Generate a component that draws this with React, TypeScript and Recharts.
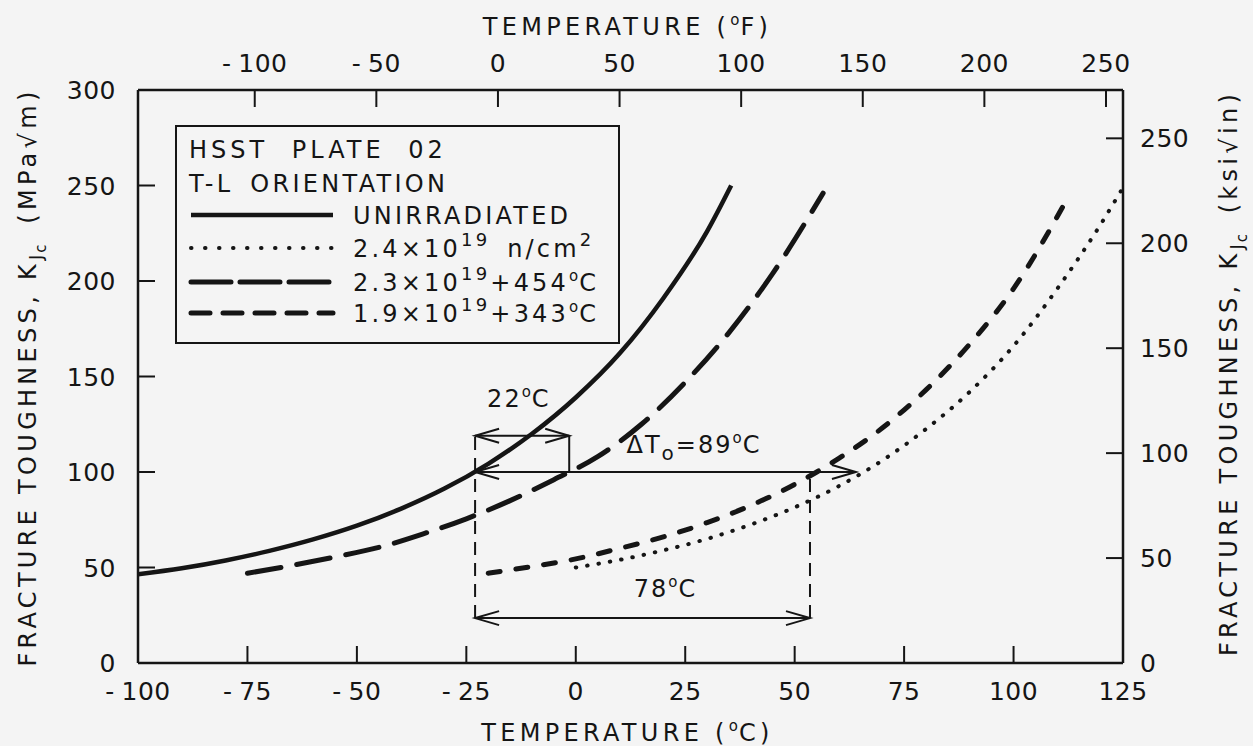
import React from 'react';
import { LineChart, Line, XAxis, YAxis, ReferenceLine, ReferenceDot, Legend } from 'recharts';

// ---------- data ----------
const unirrTemp = [-100, -90, -80, -70, -60, -50, -40, -30, -20, -10, 0, 10, 20, 30, 35.5];
const unirrK = [46.5, 49.6, 53.7, 58.7, 64.7, 71.9, 80.7, 91.3, 104.3, 120, 139, 162, 191, 226, 250];

const dose24Temp = [0, 10, 20, 30, 40, 50, 60, 70, 80, 90, 100, 110, 120, 124.5];
const dose24K = [50, 54, 59, 65, 72.5, 81.5, 92.5, 106, 122.5, 142, 166, 196, 230, 247];

const ann454Temp = [-75, -65, -55, -45, -35, -25, -15, -5, 5, 15, 25, 35, 45, 56.5];
const ann454K = [47, 51, 55.5, 60.5, 67.5, 75.5, 85, 96, 108, 125, 147, 173, 204, 246];

const ann343Temp = [-20, -10, 0, 10, 20, 30, 40, 50, 60, 70, 80, 90, 100, 112.5];
const ann343K = [47, 50.5, 54.5, 60, 66, 73.5, 82.5, 93.5, 107, 123, 143, 167, 196, 244];

const xTicksC = [-100, -75, -50, -25, 0, 25, 50, 75, 100, 125];
const xTicksF = [-100, -50, 0, 50, 100, 150, 200, 250];
const yTicksMPa = [0, 50, 100, 150, 200, 250, 300];
const yTicksKsi = [0, 50, 100, 150, 200, 250];

const domainC = [-100, 125];
const domainF = [-148, 257];
const domainMPa = [0, 300];
const domainKsi = [0, 273.03];

// annotation values (temperature in °C, toughness in MPa√m)
const refTemp = -23;
const shift454Temp = -1.5;
const shift343Temp = 53.5;
const dtArrowEnd = 64;
const kRef = 100;
const k22 = 119;
const k78 = 23.5;
const label22 = { t: -13, k: 134 };
const labelDT = { t: 27, k: 110 };
const label78 = { t: 20.5, k: 34.5 };

const zip = (ts: number[], ks: number[]) => ts.map((t, i) => ({ t, k: ks[i] }));
const unirr = zip(unirrTemp, unirrK);
const dose24 = zip(dose24Temp, dose24K);
const ann454 = zip(ann454Temp, ann454K);
const ann343 = zip(ann343Temp, ann343K);
// span of the secondary axes (°F, ksi√in) so that they get drawn
const secondarySpan = [
  { f: domainF[0], k: domainKsi[0] },
  { f: domainF[1], k: domainKsi[1] },
];

// ---------- styles ----------
const FONT = '"DejaVu Sans", sans-serif';
const INK = '#151515';
const BG = '#f4f4f4';

const series = [
  { key: 'unirr', data: unirr, width: 4.5, dash: undefined as string | undefined, legendDash: undefined as string | undefined, cap: 'butt' },
  { key: 'dose24', data: dose24, width: 4, dash: '0.5 11', legendDash: '0.5 13.5', cap: 'round' },
  { key: 'ann454', data: ann454, width: 5, dash: '34 16', legendDash: '40 9', cap: 'round' },
  { key: 'ann343', data: ann343, width: 5, dash: '12 16', legendDash: '19 13', cap: 'round' },
];

const fmt = (v: number) => (v < 0 ? '-\u2005' + Math.abs(v) : String(v));

const tickText = { fontFamily: FONT, fontSize: 25, fill: INK, letterSpacing: 0.5 } as const;

const BottomTick = (p: any) => (
  <text x={p.x} y={p.y} textAnchor="middle" {...tickText}>{fmt(p.payload.value)}</text>
);
const TopTick = (p: any) => (
  <text x={p.x} y={p.y} textAnchor="middle" {...tickText}>{fmt(p.payload.value)}</text>
);
const LeftTick = (p: any) => (
  <text x={p.x} y={p.y} dy="0.36em" textAnchor="end" {...tickText}>{fmt(p.payload.value)}</text>
);
const RightTick = (p: any) => (
  <text x={p.x} y={p.y} dy="0.36em" textAnchor="start" {...tickText}>{fmt(p.payload.value)}</text>
);

const titleText = { fontFamily: FONT, fontSize: 24, fill: INK, letterSpacing: 4.3 } as const;

const Deg = ({ letter }: { letter: string }) => (
  <>
    <tspan fontSize={15} dy={-10} letterSpacing={1}>o</tspan>
    <tspan dy={10}>{letter}</tspan>
  </>
);

const BottomTitle = (p: any) => {
  const vb = p.viewBox || { x: 138, y: 663, width: 985, height: 83 };
  return (
    <text x={vb.x + vb.width / 2 - 3} y={vb.y + 78} textAnchor="middle" {...titleText}>
      TEMPERATURE (<Deg letter="C)" />
    </text>
  );
};
const TopTitle = (p: any) => {
  const vb = p.viewBox || { x: 138, y: 0, width: 985, height: 90 };
  return (
    <text x={vb.x + vb.width / 2 - 3} y={vb.y + 35} textAnchor="middle" {...titleText}>
      TEMPERATURE (<Deg letter="F)" />
    </text>
  );
};

const KJc = () => (
  <>
    K
    <tspan fontSize={18} dy={6} letterSpacing={2}>J</tspan>
    <tspan fontSize={15} dy={4}>c</tspan>
    <tspan dy={-10}>{'\u2002'}</tspan>
  </>
);

const LeftTitle = () => {
  const cx = 36;
  const cy = 377;
  return (
    <text x={cx} y={cy} transform={`rotate(-90, ${cx}, ${cy})`} textAnchor="middle" {...titleText}>
      FRACTURE TOUGHNESS, <KJc />(MPa√m)
    </text>
  );
};
const RightTitle = () => {
  const cx = 1237;
  const cy = 373;
  return (
    <text x={cx} y={cy} transform={`rotate(-90, ${cx}, ${cy})`} textAnchor="middle" {...titleText}>
      FRACTURE TOUGHNESS, <KJc />(ksi√in)
    </text>
  );
};

// ---------- annotation shapes ----------
const arrowShape = (left: boolean, right: boolean) => (p: any) => {
  const { x1, y1, x2, y2 } = p;
  const L = 24;
  const H = 7;
  const xa = Math.min(x1, x2);
  const xb = Math.max(x1, x2);
  const y = (y1 + y2) / 2;
  return (
    <g>
      <line x1={xa} y1={y} x2={xb} y2={y} stroke={INK} strokeWidth={2} />
      {left && <path d={`M${xa + L},${y - H} L${xa},${y} L${xa + L},${y + H}`} fill="none" stroke={INK} strokeWidth={2} />}
      {right && <path d={`M${xb - L},${y - H} L${xb},${y} L${xb - L},${y + H}`} fill="none" stroke={INK} strokeWidth={2} />}
    </g>
  );
};

const labelShape = (content: React.ReactNode) => (p: any) => (
  <text x={p.cx} y={p.cy} textAnchor="middle" fontFamily={FONT} fontSize={24} fill={INK} letterSpacing={2}>
    {content}
  </text>
);

// ---------- legend ----------
const legendRows: { label: React.ReactNode }[] = [
  { label: 'UNIRRADIATED' },
  {
    label: (
      <>
        2.4×10<tspan fontSize={18} dy={-11}>19</tspan>
        <tspan dy={11}>{' n/cm'}</tspan>
        <tspan fontSize={18} dy={-11}>2</tspan>
      </>
    ),
  },
  {
    label: (
      <>
        2.3×10<tspan fontSize={18} dy={-11}>19</tspan>
        <tspan dy={11}>+454</tspan>
        <Deg letter="C" />
      </>
    ),
  },
  {
    label: (
      <>
        1.9×10<tspan fontSize={18} dy={-11}>19</tspan>
        <tspan dy={11}>+343</tspan>
        <Deg letter="C" />
      </>
    ),
  },
];

const LegendBox = () => {
  const rowY = [90, 123, 157, 188];
  const txt = { fontFamily: FONT, fontSize: 24, fill: INK, letterSpacing: 3.2, wordSpacing: 6 } as const;
  return (
    <svg width={446} height={220} style={{ display: 'block' }}>
      <rect x={1} y={1} width={443} height={217} fill={BG} stroke={INK} strokeWidth={2} />
      <text x={14} y={33} {...txt} letterSpacing={4} wordSpacing={12}>HSST PLATE 02</text>
      <text x={14} y={67} {...txt} letterSpacing={3.3}>T-L ORIENTATION</text>
      {series.map((s, i) => (
        <g key={s.key}>
          <line
            x1={16}
            x2={158}
            y1={rowY[i]}
            y2={rowY[i]}
            stroke={INK}
            strokeWidth={s.width}
            strokeDasharray={s.legendDash}
            strokeLinecap={s.cap as any}
          />
          <text x={178} y={rowY[i] + 9} {...txt}>{legendRows[i].label}</text>
        </g>
      ))}
    </svg>
  );
};

const axisLineStyle = { stroke: INK, strokeWidth: 2.5 };
const tickLineStyle = { stroke: INK, strokeWidth: 2 };

export default function App() {
  return (
    <div style={{ position: 'absolute', left: 0, top: 0, width: 1253, height: 746, background: BG }}>
      <LineChart width={1253} height={746} margin={{ top: 0, right: 0, bottom: 0, left: 0 }}>
        <XAxis
          xAxisId={0}
          dataKey="t"
          type="number"
          domain={domainC}
          allowDataOverflow
          ticks={xTicksC}
          interval={0}
          orientation="bottom"
          height={83}
          tickSize={-17}
          tickMargin={54}
          axisLine={axisLineStyle}
          tickLine={tickLineStyle}
          tick={BottomTick}
          label={BottomTitle}
        />
        <XAxis
          xAxisId="f"
          dataKey="f"
          type="number"
          domain={domainF}
          allowDataOverflow
          ticks={xTicksF}
          interval={0}
          orientation="top"
          height={90}
          tickSize={-17}
          tickMargin={35}
          axisLine={axisLineStyle}
          tickLine={tickLineStyle}
          tick={TopTick}
          label={TopTitle}
        />
        <YAxis
          yAxisId={0}
          type="number"
          domain={domainMPa}
          allowDataOverflow
          ticks={yTicksMPa}
          interval={0}
          orientation="left"
          width={138}
          tickSize={-17}
          tickMargin={39}
          axisLine={axisLineStyle}
          tickLine={tickLineStyle}
          tick={LeftTick}
          label={LeftTitle}
        />
        <YAxis
          yAxisId="ksi"
          type="number"
          domain={domainKsi}
          allowDataOverflow
          ticks={yTicksKsi}
          interval={0}
          orientation="right"
          width={130}
          tickSize={-17}
          tickMargin={34}
          axisLine={axisLineStyle}
          tickLine={tickLineStyle}
          tick={RightTick}
          label={RightTitle}
        />

        <Line
          data={secondarySpan}
          dataKey="k"
          xAxisId="f"
          yAxisId="ksi"
          stroke="none"
          dot={false}
          activeDot={false}
          legendType="none"
          isAnimationActive={false}
        />

        {series.map((s) => (
          <Line
            key={s.key}
            data={s.data}
            dataKey="k"
            xAxisId={0}
            yAxisId={0}
            type="monotone"
            stroke={INK}
            strokeWidth={s.width}
            strokeDasharray={s.dash}
            strokeLinecap={s.cap as any}
            dot={false}
            activeDot={false}
            isAnimationActive={false}
          />
        ))}

        {/* guide lines */}
        <ReferenceLine xAxisId={0} yAxisId={0} ifOverflow="visible" segment={[{ x: refTemp, y: k78 }, { x: refTemp, y: k22 }]} stroke={INK} strokeWidth={2} strokeDasharray="13 8" />
        <ReferenceLine xAxisId={0} yAxisId={0} ifOverflow="visible" segment={[{ x: shift454Temp, y: kRef }, { x: shift454Temp, y: k22 }]} stroke={INK} strokeWidth={2} />
        <ReferenceLine xAxisId={0} yAxisId={0} ifOverflow="visible" segment={[{ x: shift343Temp, y: k78 }, { x: shift343Temp, y: kRef }]} stroke={INK} strokeWidth={2} strokeDasharray="13 8" />

        {/* arrows */}
        <ReferenceLine xAxisId={0} yAxisId={0} ifOverflow="visible" segment={[{ x: refTemp, y: k22 }, { x: shift454Temp, y: k22 }]} shape={arrowShape(true, true)} />
        <ReferenceLine xAxisId={0} yAxisId={0} ifOverflow="visible" segment={[{ x: refTemp, y: kRef }, { x: dtArrowEnd, y: kRef }]} shape={arrowShape(true, true)} />
        <ReferenceLine xAxisId={0} yAxisId={0} ifOverflow="visible" segment={[{ x: refTemp, y: k78 }, { x: shift343Temp, y: k78 }]} shape={arrowShape(true, true)} />

        {/* labels */}
        <ReferenceDot xAxisId={0} yAxisId={0} ifOverflow="visible" x={label22.t} y={label22.k} r={0} shape={labelShape(<>22<Deg letter="C" /></>)} />
        <ReferenceDot
          xAxisId={0}
          yAxisId={0}
          ifOverflow="visible"
          x={labelDT.t}
          y={labelDT.k}
          r={0}
          shape={labelShape(
            <>
              ΔT<tspan fontSize={20} dy={7}>o</tspan>
              <tspan dy={-7}>=89</tspan>
              <Deg letter="C" />
            </>
          )}
        />
        <ReferenceDot xAxisId={0} yAxisId={0} ifOverflow="visible" x={label78.t} y={label78.k} r={0} shape={labelShape(<>78<Deg letter="C" /></>)} />

        <Legend
          verticalAlign="middle"
          align="center"
          layout="horizontal"
          wrapperStyle={{ position: 'absolute', left: 175, top: 125, width: 446, height: 220 }}
          content={() => <LegendBox />}
        />
      </LineChart>
    </div>
  );
}
